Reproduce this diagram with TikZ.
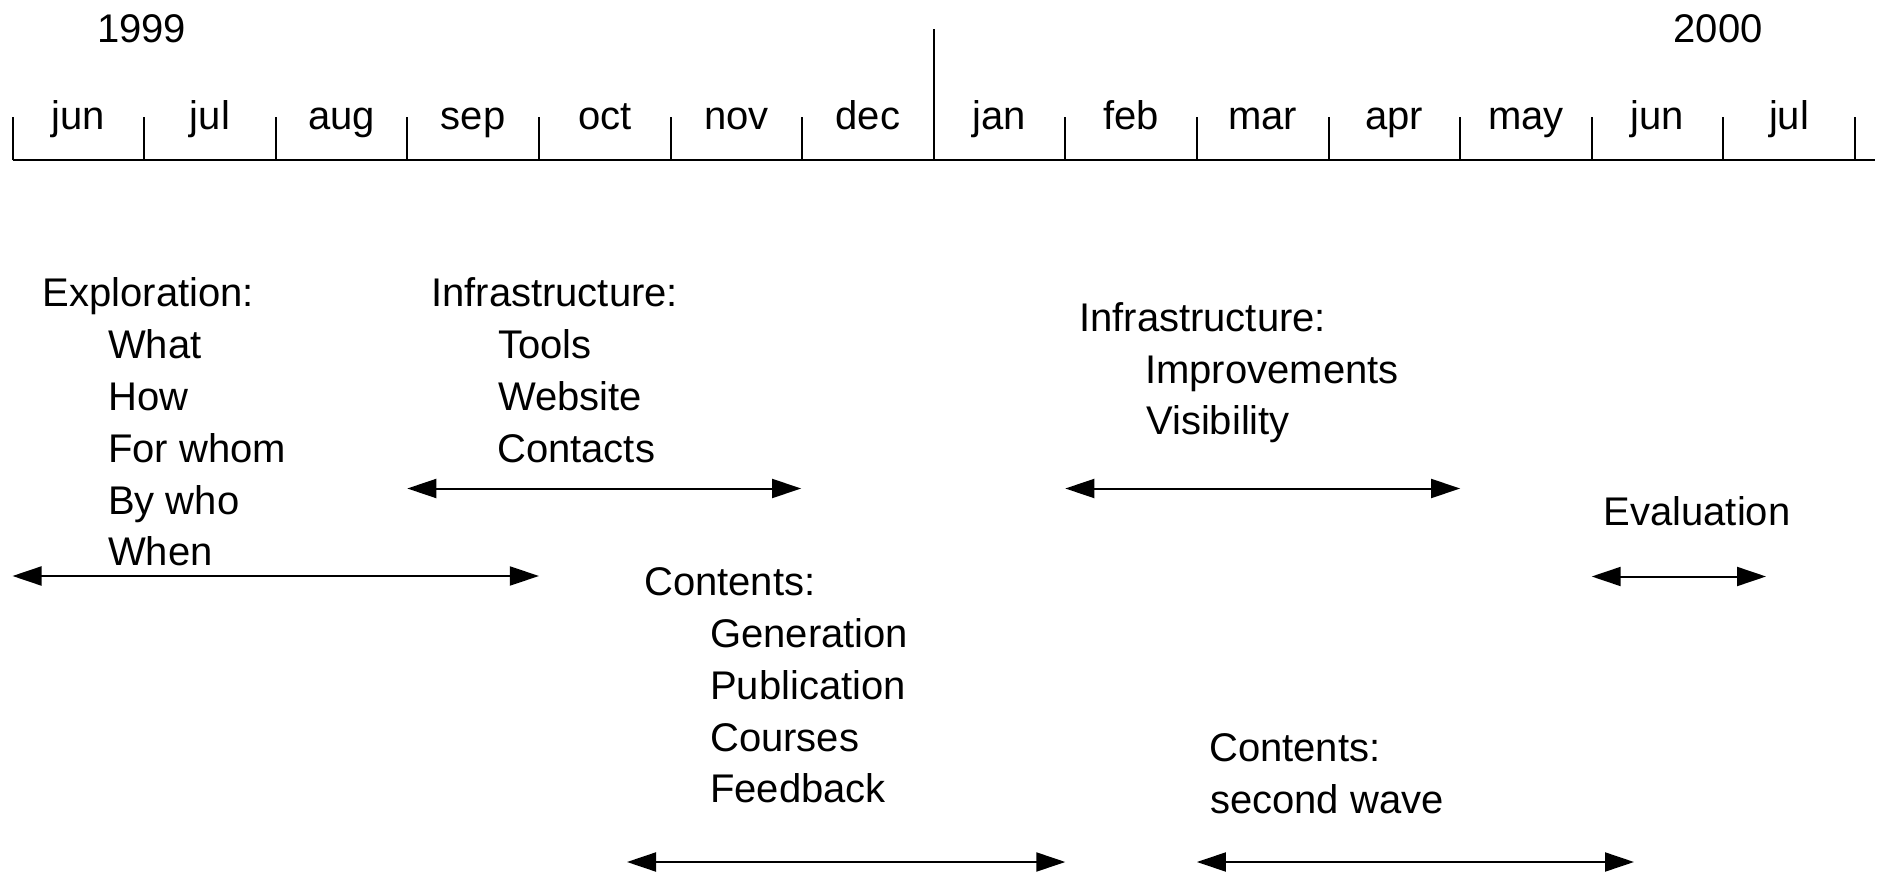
\documentclass[tikz,border=0pt]{standalone}
\usepackage{fontspec}
\setmainfont{Liberation Sans}
\usetikzlibrary{arrows.meta}
\begin{document}
\begin{tikzpicture}[x=1pt,y=-1pt,
  txt/.style={anchor=base west,inner sep=0pt,font=\fontsize{40}{48}\selectfont},
  ctxt/.style={anchor=base,inner sep=0pt,font=\fontsize{40}{48}\selectfont},
  axis/.style={line width=2pt,draw=black},
  span/.style={line width=2pt,{Triangle[length=29pt,width=19pt]}-{Triangle[length=29pt,width=19pt]}}]
\useasboundingbox (0,0) rectangle (1885,874);
% timeline
\foreach \i in {0,...,14} { \coordinate (t\i) at ({12.5+131.6*\i},160.5); }
\coordinate (tend) at (1875,160.5);
\draw[axis] (t0) -- (tend);
\foreach \i in {0,...,6,8,9,10,11,12,13,14} { \draw[axis] (t\i) -- ++(0,-43.8); }
\draw[axis] (t7) -- ++(0,-131.2);
\foreach \m [count=\i from 0] in {jun,jul,aug,sep,oct,nov,dec,jan,feb,mar,apr,may,jun,jul}
  { \node[ctxt] (m\i) at ({12.5+131.6*\i+65.8},130) {\m}; }
\node[ctxt] (y1999) at (141.5,43) {1999};
\node[ctxt] (y2000) at (1718,43) {2000};
% Exploration
\node[txt] (e0) at (42.5,307) {Exploration:};
\node[txt] (e1) at (108,359) {What};
\node[txt] (e2) at (108,410) {How};
\node[txt] (e3) at (108,462) {For whom};
\node[txt] (e4) at (108,514) {By who};
\node[txt] (e5) at (108,565) {When};
\coordinate (a1l) at (12.5,576); \coordinate (a1r) at (538.9,576);
\draw[span] (a1l) -- (a1r);
% Infrastructure 1
\node[txt] (i0) at (431,307) {Infrastructure:};
\node[txt] (i1) at (498,359) {Tools};
\node[txt] (i2) at (498,410) {Website};
\node[txt] (i3) at (497,462) {Contacts};
\coordinate (a2l) at (407.3,488.5); \coordinate (a2r) at (801.1,488.5);
\draw[span] (a2l) -- (a2r);
% Infrastructure 2
\node[txt] (j0) at (1079,332) {Infrastructure:};
\node[txt] (j1) at (1145,383.5) {Improvements};
\node[txt] (j2) at (1146,435) {Visibility};
\coordinate (a3l) at (1065.3,488.5); \coordinate (a3r) at (1460.1,488.5);
\draw[span] (a3l) -- (a3r);
% Evaluation
\node[txt] (ev) at (1603.5,525) {Evaluation};
\coordinate (a4l) at (1591.7,576.5); \coordinate (a4r) at (1766,576.5);
\draw[span] (a4l) -- (a4r);
% Contents 1
\node[txt] (c0) at (644,595.5) {Contents:};
\node[txt] (c1) at (710,647.5) {Generation};
\node[txt] (c2) at (710,699.5) {Publication};
\node[txt] (c3) at (710,751) {Courses};
\node[txt] (c4) at (710,802.5) {Feedback};
\coordinate (a5l) at (627,862); \coordinate (a5r) at (1065.3,862);
\draw[span] (a5l) -- (a5r);
% Contents 2
\node[txt] (d0) at (1209,761.5) {Contents:};
\node[txt] (d1) at (1210,813) {second wave};
\coordinate (a6l) at (1196.9,862); \coordinate (a6r) at (1634,862);
\draw[span] (a6l) -- (a6r);
\end{tikzpicture}
\end{document}
